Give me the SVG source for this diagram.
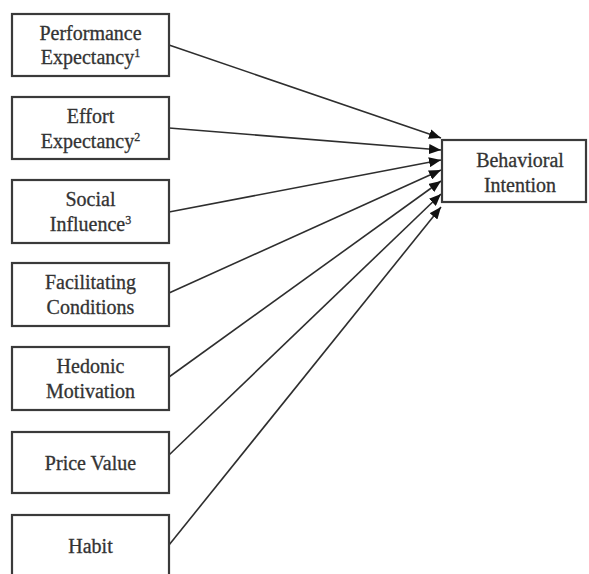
<svg xmlns="http://www.w3.org/2000/svg" width="589" height="574" viewBox="0 0 589 574">
  <style>
    .box { fill: #ffffff; stroke: #3a3a3a; stroke-width: 2.2; }
    .lbl { font-family: "Liberation Serif", "Times New Roman", serif; font-size: 20px; fill: #333333; stroke: #333333; stroke-width: 0.3; text-anchor: middle; }
    .sup { font-size: 12px; }
    .edge { stroke: #2e2e2e; stroke-width: 1.6; fill: none; marker-end: url(#arrow); }
  </style>
  <defs>
    <marker id="arrow" markerUnits="userSpaceOnUse" markerWidth="13" markerHeight="10" refX="12" refY="5" orient="auto">
      <path d="M0,0 L12,5 L0,10 z" fill="#111111"/>
    </marker>
  </defs>
  <rect width="589" height="574" fill="#ffffff"/>

  <g id="connectors">
    <line class="edge" x1="169" y1="45" x2="441" y2="138"/>
    <line class="edge" x1="169" y1="128" x2="441" y2="150"/>
    <line class="edge" x1="169" y1="212" x2="441" y2="160"/>
    <line class="edge" x1="169" y1="293" x2="441" y2="170"/>
    <line class="edge" x1="169" y1="377" x2="441" y2="181"/>
    <line class="edge" x1="169" y1="455" x2="441" y2="194"/>
    <line class="edge" x1="169" y1="545" x2="441" y2="207"/>
  </g>

  <g id="performance-expectancy">
    <rect class="box" x="12" y="14" width="157" height="62"/>
    <text class="lbl" x="90.5" y="40">Performance</text>
    <text class="lbl" x="90.5" y="64">Expectancy<tspan class="sup" dy="-7">1</tspan></text>
  </g>

  <g id="effort-expectancy">
    <rect class="box" x="12" y="97" width="157" height="62"/>
    <text class="lbl" x="90.5" y="123">Effort</text>
    <text class="lbl" x="90.5" y="148">Expectancy<tspan class="sup" dy="-7">2</tspan></text>
  </g>

  <g id="social-influence">
    <rect class="box" x="12" y="180" width="157" height="63"/>
    <text class="lbl" x="90.5" y="206">Social</text>
    <text class="lbl" x="90.5" y="231">Influence<tspan class="sup" dy="-7">3</tspan></text>
  </g>

  <g id="facilitating-conditions">
    <rect class="box" x="12" y="263" width="157" height="63"/>
    <text class="lbl" x="90.5" y="289">Facilitating</text>
    <text class="lbl" x="90.5" y="314">Conditions</text>
  </g>

  <g id="hedonic-motivation">
    <rect class="box" x="12" y="347" width="157" height="63"/>
    <text class="lbl" x="90.5" y="373">Hedonic</text>
    <text class="lbl" x="90.5" y="398">Motivation</text>
  </g>

  <g id="price-value">
    <rect class="box" x="12" y="432" width="157" height="61"/>
    <text class="lbl" x="90.5" y="470">Price Value</text>
  </g>

  <g id="habit">
    <rect class="box" x="12" y="515" width="157" height="62"/>
    <text class="lbl" x="90.5" y="553">Habit</text>
  </g>

  <g id="behavioral-intention">
    <rect class="box" x="442" y="140" width="144" height="62"/>
    <text class="lbl" x="520" y="167">Behavioral</text>
    <text class="lbl" x="520" y="192">Intention</text>
  </g>
</svg>
